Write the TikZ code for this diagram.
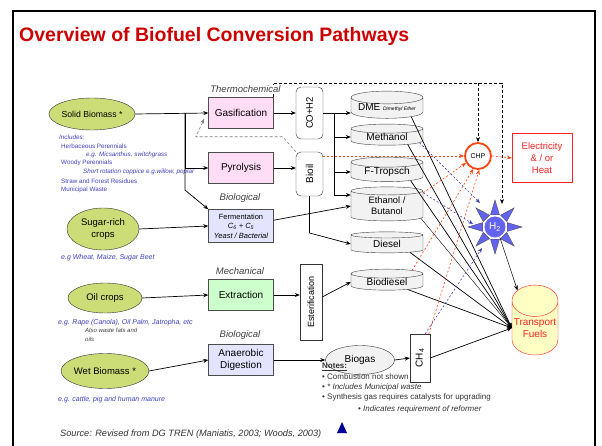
\documentclass[tikz,border=0pt]{standalone}
\usepackage{fontspec}
\setmainfont{Liberation Sans}
\usepackage{graphicx}
\usetikzlibrary{arrows.meta,positioning,calc,shapes.geometric}
\definecolor{Title}{HTML}{CC0000}
\definecolor{Leaf}{HTML}{CCDD77}
\definecolor{Pink}{HTML}{FFDDF7}
\definecolor{Lilac}{HTML}{E4E4FF}
\definecolor{Mint}{HTML}{CCFFCC}
\definecolor{Fuel}{HTML}{F2F2F2}
\definecolor{Cream}{HTML}{FFFFC4}
\definecolor{Hot}{HTML}{FF4411}
\definecolor{Power}{HTML}{FF2222}
\definecolor{Ink}{HTML}{3F3FBF}
\definecolor{Star}{HTML}{6363F2}
\definecolor{Navy}{HTML}{000099}

\begin{document}
\begin{tikzpicture}[x=1pt,y=-1pt,font=\fontsize{10}{12}\selectfont,
    feedstock/.style={ellipse,draw=black!80,fill=Leaf,inner sep=0pt,align=center,font=\fontsize{9.5}{11.5}\selectfont},
    process/.style={draw=black!70,minimum width=65,minimum height=31,inner sep=0pt,align=center},
    carrier/.style={draw=black!80,rounded corners=5,minimum width=27,inner sep=0pt},
    product/.style={cylinder,shape border rotate=90,aspect=0.22,draw=black!75,cylinder uses custom fill,
      cylinder body fill=Fuel,cylinder end fill=Fuel,minimum width=72,inner sep=0pt,align=center},
    tag/.style={font=\fontsize{9.5}{11}\selectfont\itshape,text=black!75,inner sep=1pt},
    hint/.style={anchor=west,inner sep=0pt,text=Ink,font=\fontsize{6.3}{7}\selectfont},
    note/.style={anchor=west,inner sep=0pt,text=black!80,font=\fontsize{8}{9}\selectfont},
    flow/.style={-{Stealth[length=5pt,width=4pt]},line width=0.7pt},
    heat/.style={-{Stealth[length=5pt,width=4pt]},dash pattern=on 2pt off 2pt,Hot,line width=0.6pt},
    reform/.style={heat,Ink},
    syngas/.style={-{Stealth[length=5pt,width=4pt]},dash pattern=on 3pt off 2pt,line width=0.7pt},
    recycle/.style={-{Stealth[length=5pt,width=4pt]},dash pattern=on 3pt off 2pt,black!50,line width=0.6pt}]
  \useasboundingbox (0,0) rectangle (602,446);
  \draw[line width=2pt] (13,460) -- (13,11) -- (595,11) -- (595,460);
  \node[anchor=base west,inner sep=0pt,text=Title,font=\bfseries\fontsize{19.5}{22}\selectfont] (title) at (19,42) {Overview of Biofuel Conversion Pathways};

  % feedstocks
  \node[feedstock,minimum width=73,minimum height=32,font=\fontsize{8.7}{10}\selectfont] (solid) at (92,114) {Solid Biomass *};
  \node[feedstock,minimum width=72,minimum height=42] (sugar) at (103,229) {Sugar-rich\\crops};
  \node[feedstock,minimum width=74,minimum height=30] (oil) at (105,298) {Oil crops};
  \node[feedstock,minimum width=74,minimum height=35] (wet) at (105,371) {Wet Biomass *};

  \node[hint] (inc1) at (59,137) {\itshape Includes:};
  \node[hint] (inc2) at (61,146) {Herbaceous Perennials};
  \node[hint] (inc3) at (86,155) {\itshape e.g. Micsanthus, switchgrass};
  \node[hint] (inc4) at (61,163) {Woody Perennials};
  \node[hint] (inc5) at (83,172) {\itshape Short rotation coppice e.g.willow, poplar};
  \node[hint] (inc6) at (61,181) {Straw and Forest Residues};
  \node[hint] (inc7) at (61,190) {Municipal Waste};
  \node[hint,font=\fontsize{7}{8}\selectfont\itshape] (egsugar) at (61,258) {e.g Wheat, Maize, Sugar Beet};
  \node[hint,font=\fontsize{7}{8}\selectfont\itshape] (egoil) at (58,323) {e.g. Rape (Canola), Oil Palm, Jatropha, etc};
  \node[hint,text=black!75,font=\fontsize{6}{9}\selectfont\itshape,align=left,anchor=north west] (fats) at (85,328) {Also waste fats and\\oils};
  \node[hint,font=\fontsize{7}{8}\selectfont\itshape] (egwet) at (58,400) {e.g. cattle, pig and human manure};

  % conversion routes
  \node[process,fill=Pink] (gasif) at (241,113) {Gasification};
  \node[process,fill=Pink] (pyro) at (241,168) {Pyrolysis};
  \node[process,fill=Lilac,minimum height=33,font=\fontsize{7.5}{9.5}\selectfont] (ferm) at (241,226)
    {Fermentation\\\textit{C\textsubscript{6} + C\textsubscript{5}}\\\textit{Yeast / Bacterial}};
  \node[process,fill=Mint] (extr) at (241,295) {Extraction};
  \node[process,fill=Lilac,font=\fontsize{10}{12}\selectfont] (anae) at (241,360) {Anaerobic\\Digestion};

  % intermediates
  \node[carrier,minimum height=52,font=\fontsize{9.5}{11}\selectfont] (syn) at (309.5,113) {\rotatebox{90}{CO+H2}};
  \node[carrier,minimum height=44] (bio) at (309.5,174) {\rotatebox{90}{Bioil}};
  \node[draw=black!80,minimum width=22,minimum height=76,inner sep=0pt,font=\fontsize{9}{11}\selectfont] (ester) at (311,302) {\rotatebox{90}{Esterification}};
  \node[draw=black!80,fill=white,minimum width=20,minimum height=48,inner sep=0pt] (ch4) at (420,358) {\rotatebox{90}{CH\textsubscript{4}}};

  % fuels
  \node[product,minimum height=20] (dme) at (387,108) {DME {\fontsize{5}{6}\selectfont\itshape Dimethyl Ether}};
  \node[product,minimum height=20] (meoh) at (387,137) {Methanol};
  \node[product,minimum height=20] (ft) at (387,172) {F-Tropsch};
  \node[product,minimum height=34,font=\fontsize{9.3}{11}\selectfont] (etoh) at (387,206) {Ethanol /\\Butanol};
  \node[product,minimum height=21] (diesel) at (387,244) {Diesel};
  \node[product,minimum height=21] (biodsl) at (387,282) {Biodiesel};
  \node[ellipse,draw=black!80,fill=Fuel,minimum width=69,minimum height=29,inner sep=0pt] (biogas) at (360,360) {Biogas};

  % end uses
  \node[circle,draw=Hot,line width=1.8pt,fill=white,minimum size=26,inner sep=0pt,font=\fontsize{7}{8}\selectfont] (chp) at (478,156) {CHP};
  \node[draw=Power,text=Power,minimum width=60,minimum height=49,align=center,inner sep=0pt,font=\fontsize{9.5}{12}\selectfont] (elec) at (542,158) {Electricity\\\& / or\\Heat};
  \coordinate (h2c) at (495,227);
  \foreach \a in {0,45,...,315}
    \filldraw[fill=Star,draw=black!70,line width=0.4pt] (h2c) +(\a-20:13pt) -- +(\a:27pt) -- +(\a+20:13pt) -- cycle;
  \node[circle,fill=Star,draw=white,line width=0.8pt,minimum size=22,inner sep=0pt,text=white] (h2) at (h2c) {H\textsubscript{2}};
  \node[product,aspect=0.74,draw=Power,cylinder body fill=Cream,cylinder end fill=Cream,minimum width=46,minimum height=70,text=Power] (trans) at (535,328) {Transport\\Fuels};

  \node[tag] (biol1) at (240,198) {Biological};
  \node[tag] (mech) at (240,271) {Mechanical};
  \node[tag] (biol2) at (240,335) {Biological};

  % feed to route
  \draw[flow] (solid.east) -- (gasif.west);
  \coordinate (split) at ($(solid.east)!0.68!(gasif.west)$);
  \draw[flow] (split) |- (pyro.west);
  \draw[flow] (split) -- (split |- 0,190) -- (ferm.north west);
  \draw[flow] (sugar.east) -- (ferm.west);
  \draw[flow] (oil.east) -- (extr.west);
  \draw[flow] (wet.east) -- (anae.west);
  % route to carrier
  \draw[flow] (gasif.east) -- (syn.west);
  \draw[flow] (pyro.east) -- (pyro.east -| bio.west);
  \draw[flow] (extr.east) -- (extr.east -| ester.west);
  \draw[flow] (anae.east) -- (biogas.west);
  \draw[flow] (biogas.east) -- (ch4.west);
  \draw[flow] (ferm.10) -- (etoh.west);
  % carrier to fuel
  \draw[flow] (syn.east) -- (syn.east -| dme.west);
  \coordinate (bus) at ($(syn.east)!0.4!(syn.east -| dme.west)$);
  \draw[flow] (bus) |- (meoh.west);
  \draw[flow] (bus) |- (ft.west);
  \draw[flow] (bus) |- (etoh.west |- 0,195);
  \draw[flow] (bio.south) -- (bio.south |- 0,233) -- (diesel.west);
  \draw[flow] ([yshift=5pt]ester.east) -- (biodsl.west);
  % fuel to transport
  \foreach \f in {dme,meoh,ft,diesel,biodsl}
    \draw[flow] (\f.-20) -- (trans.west);
  \draw[flow,line width=0.4pt] (etoh.-20) -- (trans.west);
  \draw[flow] (ch4.east) -- (trans.west);
  \draw[flow,line width=0.5pt] (h2.-65) -- (trans.115);
  % heat and power
  \draw[heat] (bio.east |- chp.west) -- (chp.west);
  \draw[heat] (chp.east) -- (elec.west);
  \draw[heat] (etoh.20) -- (chp.210);
  \draw[heat] (biodsl.25) -- (chp.250);
  \draw[heat] (ch4.70) -- (chp.275);
  % reformer
  \draw[reform] (meoh.-10) -- ($(h2c)+(-15,-24)$);
  \draw[reform] (etoh.20) -- ($(h2c)+(-22,-3)$);
  \draw[reform] (ch4.78) -- ($(h2c)+(-13,21)$);
  % syngas rail
  \coordinate (rail) at ($(h2c)+(7,-144)$);
  \draw[syngas] (gasif.north east) |- (rail) -- ($(h2c)+(7,-23)$);
  \draw[syngas] (chp.north |- rail) -- (chp.north);
  \draw[recycle] (bio.north west) -- ++(-13,-15) -- ++(-87,0) -- ($(gasif.south west)+(-4,-10)$);
  \node[tag,fill=white] (thermo) at (245.5,89) {Thermochemical};

  % notes
  \node[note] (notes) at (322,367) {\underline{\textbf{Notes:}}};
  \node[note] (n1) at (322,377) {\textbullet\ Combustion not shown};
  \node[note] (n2) at (322,387) {\textbullet\ \textit{* Includes Municipal waste}};
  \node[note] (n3) at (322,397) {\textbullet\ Synthesis gas requires catalysts for upgrading};
  \node[note] (n4) at (358,409) {\textbullet\ \textit{Indicates requirement of reformer}};
  \node[note,font=\fontsize{9.2}{11}\selectfont\itshape] (src) at (60,434) {Source: Revised from DG TREN (Maniatis, 2003; Woods, 2003)};
  \fill[Navy] (337,433) -- (347,433) -- (342,422) -- cycle;
\end{tikzpicture}
\end{document}
